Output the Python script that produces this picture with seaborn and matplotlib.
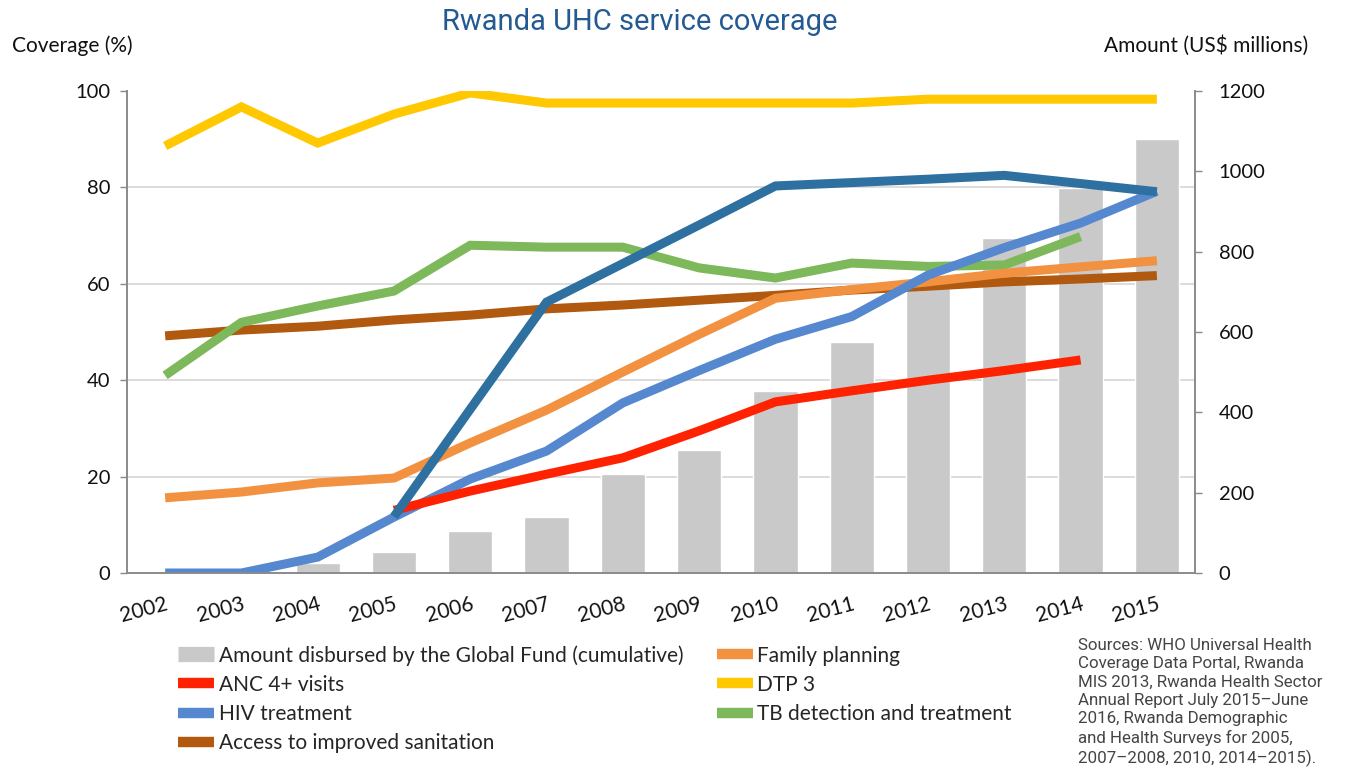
import numpy as np
import pandas as pd
import matplotlib
matplotlib.use("Agg")
import matplotlib.pyplot as plt
from matplotlib.lines import Line2D
from matplotlib.ticker import MultipleLocator
import seaborn as sns

years = ["2002", "2003", "2004", "2005", "2006", "2007", "2008",
         "2009", "2010", "2011", "2012", "2013", "2014", "2015"]
amount = [0, 0, 24, 52, 105, 140, 246, 306, 453, 574, 720, 834, 958, 1080]
family_planning = [15.6, 16.8, 18.7, 19.7, 27.0, 33.8, 41.7, 49.5, 57.0, 58.8, 60.4, 62.2, 63.5, 64.8]
anc4 = [np.nan, np.nan, np.nan, 13.0, 17.0, 20.5, 23.9, 29.5, 35.5, 37.8, 40.0, 42.0, 44.2, np.nan]
dtp3 = [88.6, 96.7, 89.2, 95.2, 99.6, 97.5, 97.5, 97.5, 97.5, 97.5, 98.3, 98.3, 98.3, 98.3]
hiv = [0.0, 0.0, 3.3, 11.6, 19.5, 25.3, 35.3, 42.0, 48.5, 53.2, 61.8, 67.5, 72.6, 79.2]
tb = [41.0, 52.0, 55.4, 58.5, 68.0, 67.6, 67.6, 63.3, 61.2, 64.3, 63.6, 63.9, 69.8, np.nan]
sanitation = [49.2, 50.4, 51.2, 52.5, 53.5, 54.8, 55.6, 56.6, 57.6, 58.7, 59.5, 60.4, 61.0, 61.7]
extra_series = [np.nan, np.nan, np.nan, 11.7, 34.0, 56.2, 64.2, 72.2, 80.3, 81.0, 81.7, 82.5, 80.8, 79.1]

bar_label = "Amount disbursed by the Global Fund (cumulative)"
series = [
    ("Access to improved sanitation", sanitation, "#B0590F"),
    ("TB detection and treatment", tb, "#7DB85A"),
    ("Family planning", family_planning, "#F2913F"),
    ("HIV treatment", hiv, "#5688D0"),
    ("ANC 4+ visits", anc4, "#FF2200"),
    ("DTP 3", dtp3, "#FFC800"),
]
extra_color = "#2E70A0"
bar_color = "#C9C9C9"

sns.set_theme(style="white")
plt.rcParams["font.family"] = ["Lato", "DejaVu Sans"]

fig = plt.figure(figsize=(13.46, 7.76), dpi=100)
ax = fig.add_axes([127 / 1346, 1 - 573 / 776, (1195 - 127) / 1346, (573 - 91) / 776])
axb = ax.twinx()

# bars (right axis)
dfb = pd.DataFrame({"year": years, "amount": amount})
sns.barplot(data=dfb, x="year", y="amount", ax=axb, color=bar_color,
            width=0.58, saturation=1, order=years, zorder=2)
axb.set_ylim(0, 1200)
axb.yaxis.set_major_locator(MultipleLocator(200))
axb.yaxis.set_minor_locator(MultipleLocator(240))
axb.grid(which="minor", axis="y", color="#D9D9D9", linewidth=1.3, zorder=0)
axb.grid(which="major", axis="y", visible=False)
axb.grid(axis="x", visible=False)
axb.set_axisbelow(True)
axb.set_ylabel("")
axb.set_xlabel("")
axb.tick_params(axis="y", which="major", right=True, length=5, width=1, color="#888888",
                labelsize=14.5, pad=12, labelcolor="#111111")
axb.tick_params(axis="y", which="minor", length=0)

# lines (left axis)
xpos = np.arange(len(years))
ax.set_zorder(axb.get_zorder() + 1)
ax.patch.set_visible(False)
rows = []
for name, vals, col in series:
    for x, v in zip(xpos, vals):
        rows.append({"x": x, "v": v, "s": name})
dfl = pd.DataFrame(rows)
pal = {name: col for name, _, col in series}
order_names = [name for name, _, _ in series]
sns.lineplot(data=dfl, x="x", y="v", hue="s", hue_order=order_names, palette=pal,
             ax=ax, linewidth=6.5, legend=False, sort=False, estimator=None,
             solid_capstyle="butt")
ax.plot(xpos, extra_series, color=extra_color, linewidth=6.5, solid_capstyle="butt")
for ln in ax.lines:
    ln.set_solid_joinstyle("miter")

ax.set_ylim(0, 100)
ax.set_xlim(-0.5, len(years) - 0.5)
ax.yaxis.set_major_locator(MultipleLocator(20))
ax.set_xticks(xpos)
ax.set_xticklabels(years, rotation=15, fontsize=15, color="#111111", ha="right",
                   rotation_mode="anchor")
ax.tick_params(axis="x", length=0, pad=15)
ax.tick_params(axis="y", left=True, length=5, width=1, color="#888888", labelsize=14.5,
               pad=7, labelcolor="#111111")
ax.set_xlabel("")
ax.set_ylabel("")
ax.grid(False)
for a in (ax, axb):
    a.spines["top"].set_visible(False)
    for s in ("left", "right", "bottom"):
        a.spines[s].set_color("#8C8C8C")
        a.spines[s].set_linewidth(1.3)

fig.text(640 / 1346, 1 - 22 / 776, "Rwanda UHC service coverage", ha="center", va="center",
         fontsize=21, color="#245A92", family=["Roboto", "DejaVu Sans"])
fig.text(12 / 1346, 1 - 46 / 776, "Coverage (%)", ha="left", va="center", fontsize=15,
         color="#111111")
fig.text(1308 / 1346, 1 - 46 / 776, "Amount (US$ millions)", ha="right", va="center",
         fontsize=15, color="#111111")

handles = [Line2D([], [], color=bar_color, linewidth=11, solid_capstyle="butt")]
labels = [bar_label]
legend_order = ["ANC 4+ visits", "HIV treatment", "Access to improved sanitation",
                "Family planning", "DTP 3", "TB detection and treatment"]
for nm in legend_order:
    handles.append(Line2D([], [], color=pal[nm], linewidth=7.5, solid_capstyle="butt"))
    labels.append(nm)
fig.legend(handles, labels, ncol=2, loc="upper left",
           bbox_to_anchor=(178 / 1346, 1 - 645 / 776), frameon=False, fontsize=15,
           handlelength=1.75, handletextpad=0.2, labelspacing=0.44, columnspacing=1.6,
           borderpad=0, borderaxespad=0)

sources = ("Sources: WHO Universal Health\nCoverage Data Portal, Rwanda\n"
           "MIS 2013, Rwanda Health Sector\nAnnual Report July 2015\u2013June\n"
           "2016, Rwanda Demographic\nand Health Surveys for 2005,\n"
           "2007\u20132008, 2010, 2014\u20132015).")
fig.text(1078 / 1346, 1 - 638 / 776, sources, ha="left", va="top", fontsize=12.2,
         color="#444444", linespacing=1.28,
         family=["Roboto", "DejaVu Sans"])

fig.savefig("out.png", dpi=100, facecolor="white")
